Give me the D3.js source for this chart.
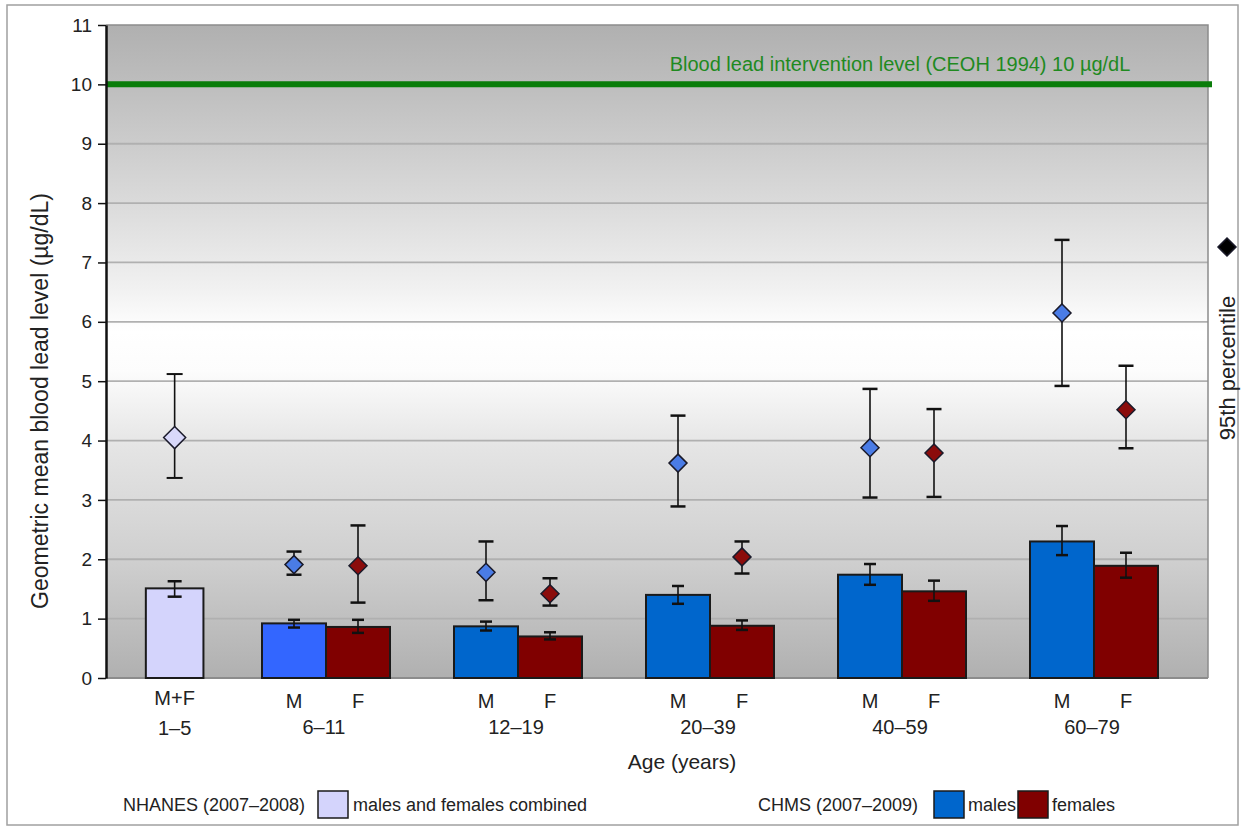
<!DOCTYPE html>
<html>
<head>
<meta charset="utf-8">
<script src="https://cdn.jsdelivr.net/npm/d3@7"></script>
<style>
body { margin: 0; background: #fff; }
svg { display: block; font-family: "Liberation Sans", Arial, sans-serif; }
</style>
</head>
<body>
<svg id="chart" width="1244" height="832"></svg>
<script>
//////////////////////////////////////
// Data

// NHANES, 1-5 years, males and females combined
const nhanesGroup = '1–5'
const nhanesMean = 1.51
const nhanesMeanCI = [1.37, 1.63]
const nhanesP95 = 4.05
const nhanesP95CI = [3.37, 5.12]

// CHMS, by age group
const chmsGroups = ['6–11', '12–19', '20–39', '40–59', '60–79']
const sexes = ['M', 'F']

const maleMean = [0.92, 0.87, 1.40, 1.74, 2.30]
const maleMeanLo = [0.85, 0.80, 1.25, 1.57, 2.07]
const maleMeanHi = [0.98, 0.95, 1.55, 1.92, 2.56]
const maleP95 = [1.91, 1.78, 3.62, 3.88, 6.15]
const maleP95Lo = [1.74, 1.31, 2.89, 3.04, 4.92]
const maleP95Hi = [2.13, 2.30, 4.42, 4.87, 7.38]

const femaleMean = [0.86, 0.70, 0.88, 1.46, 1.89]
const femaleMeanLo = [0.76, 0.65, 0.81, 1.30, 1.69]
const femaleMeanHi = [0.98, 0.77, 0.97, 1.64, 2.11]
const femaleP95 = [1.89, 1.42, 2.04, 3.79, 4.52]
const femaleP95Lo = [1.27, 1.22, 1.76, 3.05, 3.87]
const femaleP95Hi = [2.57, 1.68, 2.30, 4.53, 5.26]

const yTicks = [0, 1, 2, 3, 4, 5, 6, 7, 8, 9, 10, 11]
const interventionLevel = 10
const interventionLabel = 'Blood lead intervention level (CEOH 1994) 10 µg/dL'

//////////////////////////////////////
// Parameters

const plot = {left: 106, right: 1208, top: 25, bottom: 678}
const maleFill = '#0066cc', maleFillFirst = '#3366ff'
const femaleFill = '#800000'
const nhanesFill = '#d4d4fc'
const outline = '#1a1a1a'

const svg = d3.select('#chart')

// outer frame
svg.append('rect')
	.attr('x', 7).attr('y', 5).attr('width', 1231).attr('height', 820)
	.attr('fill', '#fff').attr('stroke', '#a0a0a0').attr('stroke-width', 1.5)

//////////////////////////////////////
// Scales

const y = d3.scaleLinear().domain([0, 11]).range([plot.bottom, plot.top])

const xGroup = d3.scaleBand()
	.domain(chmsGroups)
	.range([230, 1190])
	.paddingInner(1 / 3)
	.paddingOuter(1 / 6)

const xSex = d3.scaleBand().domain(sexes).range([0, xGroup.bandwidth()])

// NHANES group sits a bit closer to the first CHMS group
const nhanesX = xGroup(chmsGroups[0]) - xGroup.step() * 0.455
const nhanesW = xSex.bandwidth() * 0.9

//////////////////////////////////////
// Background

const defs = svg.append('defs')
const grad = defs.append('linearGradient')
	.attr('id', 'bg').attr('x1', 0).attr('y1', 0).attr('x2', 0).attr('y2', 1)
grad.selectAll('stop')
	.data([[0, '#b0b0b0'], [0.1, '#bfbfbf'], [0.27, '#dadada'], [0.4, '#f0f0f0'],
		[0.47, '#ffffff'], [0.53, '#fcfcfc'], [0.65, '#e4e4e4'], [0.82, '#cfcfcf'], [1, '#b0b0b0']])
	.enter().append('stop')
	.attr('offset', d => d[0])
	.attr('stop-color', d => d[1])

svg.append('rect')
	.attr('x', plot.left).attr('y', plot.top)
	.attr('width', plot.right - plot.left).attr('height', plot.bottom - plot.top)
	.attr('fill', 'url(#bg)')

// gridlines
svg.append('g')
	.selectAll('line')
	.data(yTicks.filter(d => d > 0 && d < 11))
	.enter().append('line')
	.attr('x1', plot.left).attr('x2', plot.right)
	.attr('y1', d => y(d)).attr('y2', d => y(d))
	.attr('stroke', '#b0b0b0').attr('stroke-width', 1.8)

// top and right border of plot area
svg.append('path')
	.attr('d', `M${plot.left},${y(11)}H${plot.right}V${plot.bottom}`)
	.attr('fill', 'none').attr('stroke', '#8c8c8c').attr('stroke-width', 1.5)

// baseline
svg.append('line')
	.attr('x1', plot.left).attr('x2', plot.right)
	.attr('y1', y(0)).attr('y2', y(0))
	.attr('stroke', '#8c8c8c').attr('stroke-width', 2)

//////////////////////////////////////
// Intervention level

svg.append('line')
	.attr('x1', plot.left).attr('x2', plot.right + 4)
	.attr('y1', y(interventionLevel)).attr('y2', y(interventionLevel))
	.attr('stroke', '#0a7d0a').attr('stroke-width', 6)

svg.append('text')
	.attr('x', 900).attr('y', y(interventionLevel) - 13)
	.attr('text-anchor', 'middle')
	.attr('fill', '#1f8a1f')
	.style('font-size', '20px')
	.text(interventionLabel)

//////////////////////////////////////
// Bars

function errorBar(g, x, lo, hi, capW, capStroke) {
	g.append('line')
		.attr('x1', x).attr('x2', x).attr('y1', y(lo)).attr('y2', y(hi))
		.attr('stroke', '#111').attr('stroke-width', 1.6)
	;[lo, hi].forEach(function(v) {
		g.append('line')
			.attr('x1', x - capW / 2).attr('x2', x + capW / 2)
			.attr('y1', y(v)).attr('y2', y(v))
			.attr('stroke', '#111').attr('stroke-width', capStroke)
	})
}

function diamond(g, x, cy, r, fill) {
	g.append('path')
		.attr('d', `M${x},${cy - r}L${x + r},${cy}L${x},${cy + r}L${x - r},${cy}Z`)
		.attr('fill', fill).attr('stroke', '#1a1a2a').attr('stroke-width', 1.5)
}

const marks = svg.append('g')

// NHANES
marks.append('rect')
	.attr('x', nhanesX - nhanesW / 2).attr('y', y(nhanesMean))
	.attr('width', nhanesW).attr('height', y(0) - y(nhanesMean))
	.attr('fill', nhanesFill).attr('stroke', outline).attr('stroke-width', 2)
errorBar(marks, nhanesX, nhanesMeanCI[0], nhanesMeanCI[1], 14, 2.5)
errorBar(marks, nhanesX, nhanesP95CI[0], nhanesP95CI[1], 16, 2)
diamond(marks, nhanesX, y(nhanesP95), 11, '#d8d8fa')

// CHMS
const series = [
	{sex: 'M', mean: maleMean, lo: maleMeanLo, hi: maleMeanHi, p95: maleP95, p95lo: maleP95Lo, p95hi: maleP95Hi},
	{sex: 'F', mean: femaleMean, lo: femaleMeanLo, hi: femaleMeanHi, p95: femaleP95, p95lo: femaleP95Lo, p95hi: femaleP95Hi}
]

series.forEach(function(s) {
	chmsGroups.forEach(function(grp, i) {
		const x0 = xGroup(grp) + xSex(s.sex)
		var fill = s.sex == 'M' ? (i == 0 ? maleFillFirst : maleFill) : femaleFill
		marks.append('rect')
			.attr('x', x0).attr('y', y(s.mean[i]))
			.attr('width', xSex.bandwidth()).attr('height', y(0) - y(s.mean[i]))
			.attr('fill', fill).attr('stroke', outline).attr('stroke-width', 2)
	})
})

series.forEach(function(s) {
	chmsGroups.forEach(function(grp, i) {
		const cx = xGroup(grp) + xSex(s.sex) + xSex.bandwidth() / 2
		errorBar(marks, cx, s.lo[i], s.hi[i], 12, 2.5)
		errorBar(marks, cx, s.p95lo[i], s.p95hi[i], 15, 2.5)
		diamond(marks, cx, y(s.p95[i]), 9, s.sex == 'M' ? '#4a7ce6' : '#8b0c0c')
	})
})

//////////////////////////////////////
// Axes

const yAxis = svg.append('g')
	.attr('transform', `translate(${plot.left},0)`)
	.call(d3.axisLeft(y).tickValues(yTicks).tickSize(8).tickSizeOuter(0).tickPadding(6))
yAxis.select('.domain').attr('stroke', '#111').attr('stroke-width', 2.5)
yAxis.selectAll('.tick line').attr('stroke', '#111').attr('stroke-width', 1.5)
yAxis.selectAll('.tick text')
	.attr('fill', '#222')
	.style('font-size', '19px')
	.style('font-family', '"Liberation Sans", Arial, sans-serif')

svg.append('text')
	.attr('transform', 'translate(42,401) rotate(-90)')
	.attr('text-anchor', 'middle')
	.attr('dominant-baseline', 'middle')
	.attr('fill', '#222')
	.style('font-size', '23px')
	.text('Geometric mean blood lead level (µg/dL)')

// category labels
const xLabels = svg.append('g').attr('fill', '#222').style('font-size', '20px')

xLabels.append('text')
	.attr('x', nhanesX).attr('y', 705).attr('text-anchor', 'middle').text('M+F')
xLabels.append('text')
	.attr('x', nhanesX).attr('y', 735).attr('text-anchor', 'middle').text(nhanesGroup)

chmsGroups.forEach(function(grp) {
	sexes.forEach(function(sx) {
		xLabels.append('text')
			.attr('x', xGroup(grp) + xSex(sx) + xSex.bandwidth() / 2)
			.attr('y', 708).attr('text-anchor', 'middle').text(sx)
	})
	xLabels.append('text')
		.attr('x', xGroup(grp) + xGroup.bandwidth() / 2 - 2)
		.attr('y', 734).attr('text-anchor', 'middle').text(grp)
})

xLabels.append('text')
	.attr('x', 682).attr('y', 769).attr('text-anchor', 'middle')
	.style('font-size', '21px')
	.text('Age (years)')

//////////////////////////////////////
// 95th percentile key (right)

diamond(svg, 1227, 247, 9, '#000')
svg.append('text')
	.attr('transform', 'translate(1229,368) rotate(-90)')
	.attr('text-anchor', 'middle')
	.attr('dominant-baseline', 'middle')
	.attr('fill', '#222')
	.style('font-size', '22px')
	.text('95th percentile')

//////////////////////////////////////
// Legend

const legend = svg.append('g').attr('fill', '#222').style('font-size', '18px')

function legendBox(x, fill) {
	legend.append('rect')
		.attr('x', x).attr('y', 791).attr('width', 30).attr('height', 27)
		.attr('fill', fill).attr('stroke', outline).attr('stroke-width', 1.5)
}

legend.append('text').attr('x', 123).attr('y', 811).text('NHANES (2007–2008)')
legendBox(318, nhanesFill)
legend.append('text').attr('x', 353).attr('y', 811).text('males and females combined')

legend.append('text').attr('x', 758).attr('y', 811).text('CHMS (2007–2009)')
legendBox(934, maleFill)
legend.append('text').attr('x', 968).attr('y', 811).text('males')
legendBox(1018, femaleFill)
legend.append('text').attr('x', 1052).attr('y', 811).text('females')
</script>
</body>
</html>
